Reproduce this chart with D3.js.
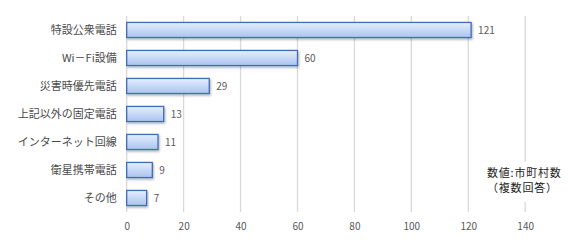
<!DOCTYPE html>
<html>
<head>
<meta charset="UTF-8">
<style>
  body { margin: 0; background: #fff; }
  text { font-family: "Noto Sans CJK JP", "Noto Sans", sans-serif; }
</style>
</head>
<body>
<script src="https://cdn.jsdelivr.net/npm/d3@7/dist/d3.min.js"></script>
<script>
// data
var categories = ["特設公衆電話", "Wi－Fi設備", "災害時優先電話", "上記以外の固定電話", "インターネット回線", "衛星携帯電話", "その他"];
var values = [121, 60, 29, 13, 11, 9, 7];
var xTicks = [0, 20, 40, 60, 80, 100, 120, 140];
var noteLines = ["数値:市町村数", "（複数回答）"];

var width = 570, height = 240;
var plotLeft = 126.7, plotRight = 525.2, plotTop = 16, plotBottom = 212;

var svg = d3.select("body").append("svg")
  .attr("width", width)
  .attr("height", height);

// bar gradient + shadow
var defs = svg.append("defs");
var grad = defs.append("linearGradient").attr("id", "barGrad")
  .attr("x1", 0).attr("y1", 0).attr("x2", 0).attr("y2", 1);
grad.append("stop").attr("offset", "0%").attr("stop-color", "#e6efff");
grad.append("stop").attr("offset", "100%").attr("stop-color", "#a9c3ee");

var shadow = defs.append("filter").attr("id", "shadow")
  .attr("x", "-5%").attr("y", "-20%").attr("width", "115%").attr("height", "160%");
shadow.append("feDropShadow").attr("dx", 1).attr("dy", 1.5)
  .attr("stdDeviation", 0.8).attr("flood-color", "#000").attr("flood-opacity", 0.3);

var x = d3.scaleLinear().domain([0, 140]).range([plotLeft, plotRight]);
var y = d3.scaleBand().domain(categories).range([plotTop, plotBottom]).paddingInner(0.46).paddingOuter(0.23);

// gridlines
svg.append("g").selectAll("line")
  .data(xTicks)
  .enter().append("line")
  .attr("x1", function(d) { return x(d); })
  .attr("x2", function(d) { return x(d); })
  .attr("y1", plotTop)
  .attr("y2", plotBottom)
  .attr("stroke", "#d9d9d9")
  .attr("stroke-width", 1.3);

// bars
svg.append("g").selectAll("rect")
  .data(values)
  .enter().append("rect")
  .attr("x", x(0))
  .attr("y", function(d, i) { return y(categories[i]); })
  .attr("width", function(d) { return x(d) - x(0); })
  .attr("height", y.bandwidth())
  .attr("fill", "url(#barGrad)")
  .attr("stroke", "#3f6db5")
  .attr("stroke-width", 1.3)
  .attr("filter", "url(#shadow)");

// value labels
svg.append("g").selectAll("text")
  .data(values)
  .enter().append("text")
  .attr("x", function(d) { return x(d) + 7; })
  .attr("y", function(d, i) { return y(categories[i]) + y.bandwidth() / 2; })
  .attr("dy", "0.35em")
  .attr("font-size", 10)
  .attr("fill", "#595959")
  .text(function(d) { return d; });

// category labels
var yAxis = d3.axisLeft(y).tickSize(0).tickPadding(10);
var yg = svg.append("g").attr("transform", "translate(" + plotLeft + ",0)").call(yAxis);
yg.select(".domain").remove();
yg.selectAll("text").attr("font-size", 11).attr("fill", "#4a4a4a")
  .style("font-family", '"Noto Sans CJK JP", sans-serif');

// x tick labels
var xAxis = d3.axisBottom(x).tickValues(xTicks).tickSize(0).tickPadding(11);
var xg = svg.append("g").attr("transform", "translate(0," + plotBottom + ")").call(xAxis);
xg.select(".domain").remove();
xg.selectAll("text").attr("font-size", 10).attr("fill", "#595959")
  .style("font-family", '"Noto Sans CJK JP", sans-serif');

// note box
svg.append("rect")
  .attr("x", 484).attr("y", 162)
  .attr("width", 82).attr("height", 40)
  .attr("fill", "#fff");
svg.append("g").selectAll("text")
  .data(noteLines)
  .enter().append("text")
  .attr("x", 487)
  .attr("y", function(d, i) { return 177 + i * 15; })
  .attr("font-size", 11)
  .attr("letter-spacing", 0.8)
  .attr("fill", "#222")
  .text(function(d) { return d; });
</script>
</body>
</html>
